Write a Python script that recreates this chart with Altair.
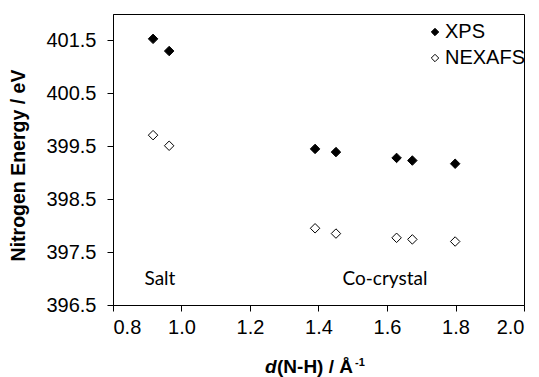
import altair as alt
import pandas as pd

# data
xps_x = [0.917, 0.964, 1.390, 1.451, 1.628, 1.674, 1.799]
xps_y = [401.53, 401.30, 399.45, 399.39, 399.28, 399.23, 399.17]
nex_x = [0.917, 0.964, 1.390, 1.451, 1.628, 1.674, 1.799]
nex_y = [399.71, 399.51, 397.95, 397.85, 397.77, 397.74, 397.70]
series_names = ["XPS", "NEXAFS"]
note_text = ["Salt", "Co-crystal"]
note_x = [0.937, 1.594]
note_y = [397.0, 397.0]
x_ticks = [0.8, 1.0, 1.2, 1.4, 1.6, 1.8, 2.0]
y_ticks = [396.5, 397.0, 397.5, 398.0, 398.5, 399.0, 399.5, 400.0, 400.5, 401.0, 401.5, 402.0]
x_title_parts = ["d", "(N-H) / Å", "-1"]
y_title = "Nitrogen Energy / eV"

W, H = 411, 291
FONT = "Liberation Sans"

pts = pd.DataFrame({
    "x": xps_x + nex_x,
    "y": xps_y + nex_y,
    "series": [series_names[0]] * len(xps_x) + [series_names[1]] * len(nex_x),
})
notes = pd.DataFrame({"x": note_x, "y": note_y, "t": note_text})

xscale = alt.Scale(domain=[0.8, 2.0], nice=False, zero=False)
yscale = alt.Scale(domain=[396.5, 402.0], nice=False, zero=False)

points = alt.Chart(pts).mark_point(
    shape="diamond", filled=True, stroke="black", strokeWidth=1, size=90, opacity=1
).encode(
    x=alt.X("x:Q", scale=xscale, axis=alt.Axis(
        values=x_ticks, format=".1f", title=None, grid=False,
        labelFont=FONT, labelFontSize=20, labelColor="black",
        tickColor="black", domainColor="black", tickSize=6, labelPadding=6)),
    y=alt.Y("y:Q", scale=yscale, axis=alt.Axis(
        values=y_ticks, grid=False, title=y_title,
        labelExpr="(datum.value*2)%2==1 ? format(datum.value,'.1f') : ''",
        labelFont=FONT, labelFontSize=20, labelColor="black",
        tickColor="black", domainColor="black", tickSize=6, labelPadding=11,
        titleFont=FONT, titleFontSize=19.5, titleFontWeight="bold", titleColor="black",
        titleX=-85, titleY=151)),
    fill=alt.Fill("series:N", scale=alt.Scale(domain=series_names, range=["black", "white"]),
                  sort=series_names,
                  legend=alt.Legend(title=None, orient="none", legendX=312, legendY=8,
                                    symbolType="diamond", symbolSize=55,
                                    symbolStrokeColor="black", symbolStrokeWidth=1,
                                    labelFont=FONT, labelFontSize=20, labelColor="black",
                                    rowPadding=6, padding=0, labelOffset=0)),
)

labels = alt.Chart(notes).mark_text(font="Lato", fontSize=19, color="black").encode(
    x=alt.X("x:Q", scale=xscale), y=alt.Y("y:Q", scale=yscale), text="t:N"
)

t1 = alt.Chart(pd.DataFrame({"t": [x_title_parts[0]]})).mark_text(
    font=FONT, fontSize=19, fontWeight="bold", fontStyle="italic", align="left",
    baseline="alphabetic", color="black"
).encode(x=alt.value(152), y=alt.value(359), text="t:N")
t2 = alt.Chart(pd.DataFrame({"t": [x_title_parts[1]]})).mark_text(
    font=FONT, fontSize=19, fontWeight="bold", align="left",
    baseline="alphabetic", color="black"
).encode(x=alt.value(164), y=alt.value(359), text="t:N")
t3 = alt.Chart(pd.DataFrame({"t": [x_title_parts[2]]})).mark_text(
    font=FONT, fontSize=11, fontWeight="bold", align="left",
    baseline="alphabetic", color="black"
).encode(x=alt.value(242), y=alt.value(352), text="t:N")

chart = alt.layer(points, labels, t1, t2, t3).properties(
    width=W, height=H,
    autosize=alt.AutoSizeParams(type="none"),
    padding={"left": 113, "top": 14, "right": 15, "bottom": 72},
    background="white",
).configure_view(stroke="black", strokeWidth=1)

chart.save("out.html", embed_options={"renderer": "svg", "actions": False})
